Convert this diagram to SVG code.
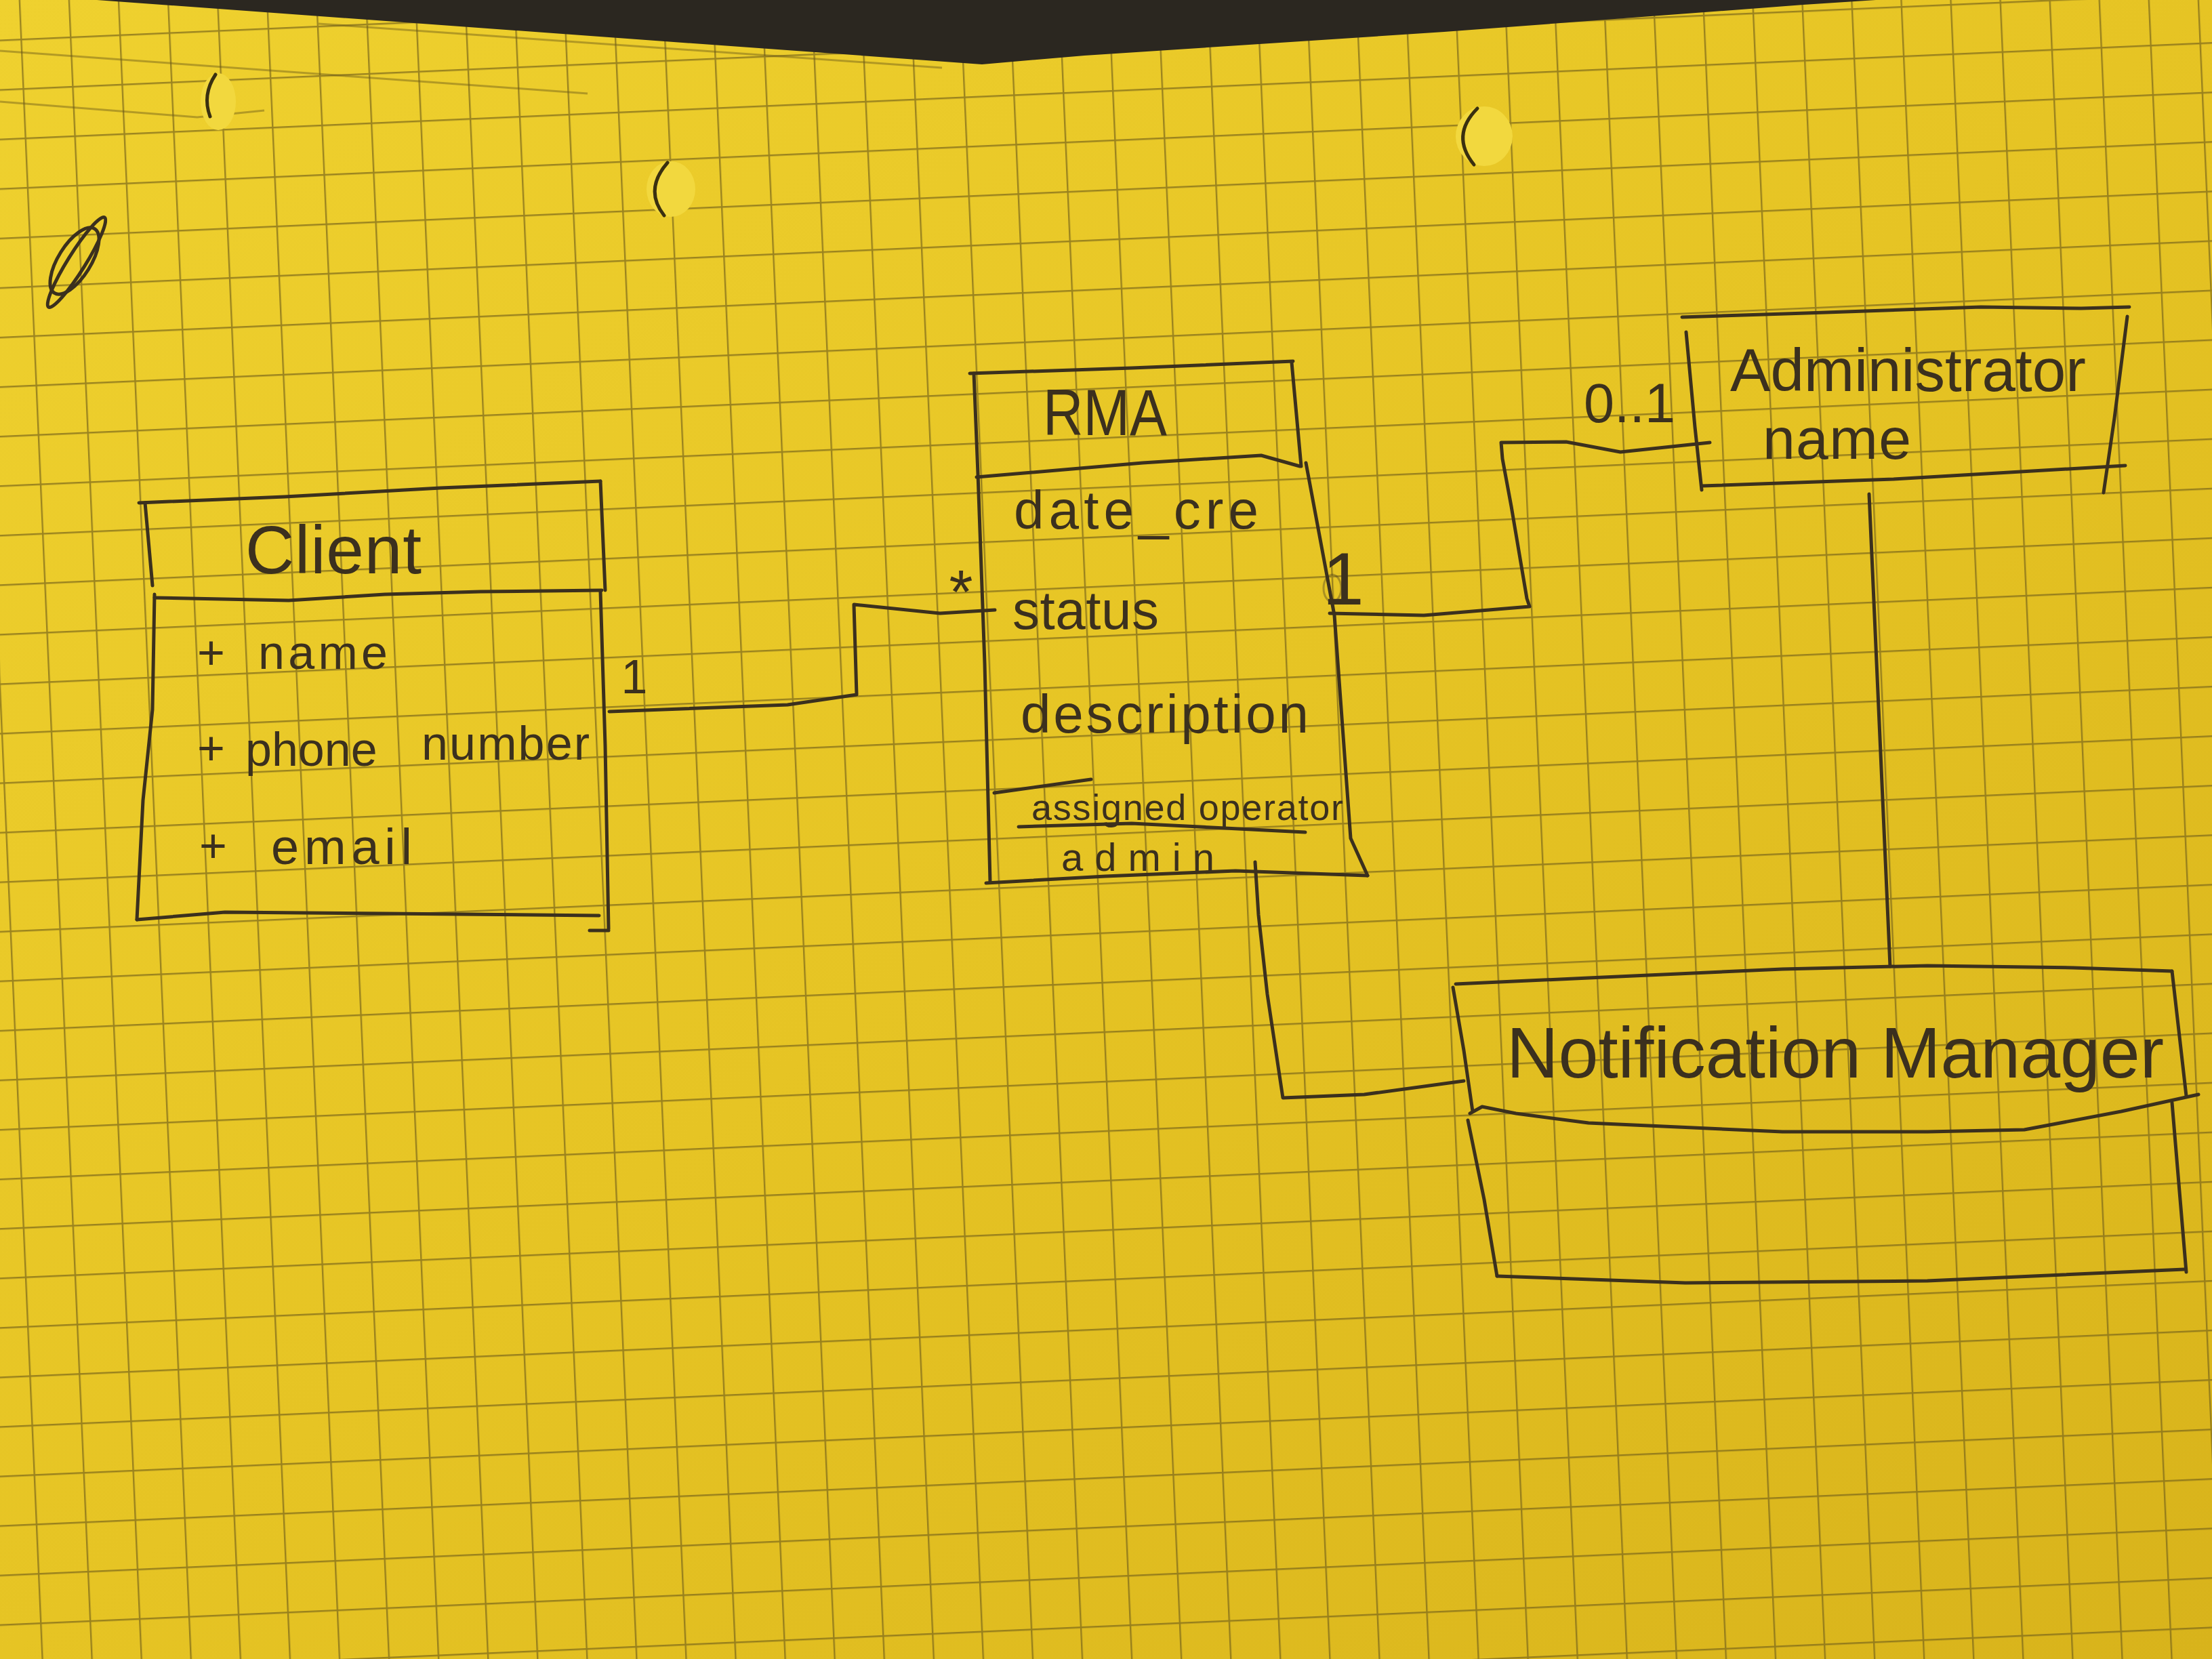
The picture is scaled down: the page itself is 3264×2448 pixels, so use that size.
<svg xmlns="http://www.w3.org/2000/svg" width="3264" height="2448" viewBox="0 0 3264 2448">
<defs>
<linearGradient id="paper" x1="0" y1="0" x2="1" y2="1">
<stop offset="0" stop-color="#efd12f"/>
<stop offset="0.5" stop-color="#e6c424"/>
<stop offset="1" stop-color="#d8b31b"/>
</linearGradient>
<pattern id="grid" width="73" height="73" patternUnits="userSpaceOnUse" patternTransform="translate(211 853) rotate(-2.5)">
<path d="M0 1.2H73M1.2 0V73" fill="none" stroke="#7a661a" stroke-width="2.4" opacity="0.7"/>
</pattern>
<style>
.pen{fill:none;stroke:#3b301e;stroke-width:5;stroke-linecap:round;stroke-linejoin:round}
.faint{fill:none;stroke:#6a5818;stroke-width:3;opacity:0.45}
.hand{font-family:"Liberation Sans",Arial,sans-serif;fill:#3b301e}
.hole{fill:#f2d83e;stroke:none}
.holeEdge{fill:none;stroke:#3a3010;stroke-width:5;stroke-linecap:round}
</style>
</defs>

<!-- paper -->
<rect x="0" y="0" width="3264" height="2448" fill="url(#paper)"/>
<rect x="0" y="0" width="3264" height="2448" fill="url(#grid)"/>
<!-- sheet edges -->
<path class="faint" d="M0 75 L867 138"/>
<path class="faint" d="M0 150 L291 173 L390 163"/>
<path class="faint" d="M470 35 L1390 100"/>
<!-- dark background at top -->
<polygon points="143,0 1449,95 1600,82 2131,47 2661,7 2768,0" fill="#2b2720"/>
<!-- punch holes -->
<ellipse class="hole" cx="322" cy="150" rx="26" ry="42"/>
<path class="holeEdge" d="M318 110 Q298 140 310 172"/>
<ellipse class="hole" cx="990" cy="279" rx="36" ry="41"/>
<path class="holeEdge" d="M985 240 Q950 280 980 318"/>
<ellipse class="hole" cx="2190" cy="201" rx="42" ry="44"/>
<path class="holeEdge" d="M2180 160 Q2140 200 2175 243"/>

<!-- scribble top-left -->
<g id="scribble">
<ellipse class="pen" cx="113" cy="387" rx="78" ry="13" transform="rotate(-58 113 387)" stroke-width="4"/>
<ellipse class="pen" cx="110" cy="385" rx="56" ry="24" transform="rotate(-58 110 385)" stroke-width="4"/>
</g>

<!-- connectors -->
<g id="connectors">
<path class="pen" d="M899 1050 L1162 1040 L1264 1025 L1260 892 L1387 905 L1468 900"/>
<path class="pen" d="M1962 905 L2101 908 L2257 895 L2253 883 L2230 747 L2217 677 L2215 653 L2311 652 L2391 667 L2523 653"/>
<path class="pen" d="M2758 729 L2789 1426"/>
<path class="pen" d="M1852 1272 L1857 1350 L1870 1467 L1893 1620 L2013 1615 L2160 1595"/>
<text class="hand" x="936" y="1023" font-size="70" text-anchor="middle">1</text>
<text class="hand" x="1418" y="905" font-size="90" text-anchor="middle">*</text>
<ellipse cx="1966" cy="868" rx="13" ry="20" fill="none" stroke="#3b301e" stroke-width="3" opacity="0.35"/>
<text class="hand" x="1982" y="892" font-size="110" text-anchor="middle">1</text>
<text class="hand" x="2337" y="623" font-size="81" textLength="135" lengthAdjust="spacing">0..1</text>
</g>

<!-- Client -->
<g id="client">
<path class="pen" d="M205 742 L420 733 L650 720 L886 710"/>
<path class="pen" d="M214 742 L225 864"/>
<path class="pen" d="M886 710 L893 871"/>
<path class="pen" d="M228 882 L426 886 L568 877 L709 873 L888 871"/>
<path class="pen" d="M228 877 L225 1047 L211 1181 L202 1357"/>
<path class="pen" d="M202 1357 L332 1346 L568 1348 L884 1351"/>
<path class="pen" d="M886 873 L893 1100 L898 1371 M870 1373 L898 1373"/>
<text class="hand" x="362" y="846" font-size="100" textLength="260" lengthAdjust="spacing">Client</text>
<text class="hand" font-size="70"><tspan x="291" y="987">+ </tspan><tspan x="381" y="987" textLength="191" lengthAdjust="spacing">name</tspan></text>
<text class="hand" font-size="70"><tspan x="291" y="1128">+ </tspan><tspan x="362" y="1130">phone </tspan><tspan x="622" y="1121" textLength="248" lengthAdjust="spacing">number</tspan></text>
<text class="hand" font-size="74"><tspan x="294" y="1272" font-size="70">+ </tspan><tspan x="400" y="1275" textLength="208" lengthAdjust="spacing">email</tspan></text>
</g>

<!-- RMA -->
<g id="rma">
<path class="pen" d="M1431 551 L1670 543 L1908 533"/>
<path class="pen" d="M1437 551 L1443 699 L1453 979 L1461 1301"/>
<path class="pen" d="M1441 704 L1686 683 L1861 672 L1918 688"/>
<path class="pen" d="M1906 535 L1920 688"/>
<path class="pen" d="M1927 683 L1969 908 L1993 1237 L2018 1292"/>
<path class="pen" d="M1455 1303 L1631 1293 L1823 1285 L2018 1292"/>
<path class="pen" d="M1467 1170 L1610 1150"/>
<text class="hand" x="1539" y="642" font-size="96" textLength="183" lengthAdjust="spacingAndGlyphs">RMA</text>
<text class="hand" x="1496" y="780" font-size="80" textLength="361" lengthAdjust="spacing">date_cre</text>
<text class="hand" x="1494" y="928" font-size="80" textLength="216" lengthAdjust="spacing">status</text>
<text class="hand" x="1506" y="1081" font-size="80" textLength="425" lengthAdjust="spacing">description</text>
<text class="hand" x="1522" y="1210" font-size="54" textLength="460" lengthAdjust="spacing">assigned operator</text>
<path class="pen" d="M1503 1220 L1670 1215 L1926 1228"/>
<text class="hand" x="1566" y="1285" font-size="58" textLength="226" lengthAdjust="spacing">admin</text>
</g>

<!-- Administrator -->
<g id="administrator">
<path class="pen" d="M2482 468 L2665 462 L2923 453 L3071 455 L3142 453"/>
<path class="pen" d="M2488 490 L2501 630 L2511 723"/>
<path class="pen" d="M2511 717 L2794 707 L3136 687"/>
<path class="pen" d="M3139 467 L3120 617 L3104 727"/>
<text class="hand" x="2553" y="577" font-size="89" textLength="525" lengthAdjust="spacing">Administrator</text>
<text class="hand" x="2601" y="677" font-size="86" textLength="219" lengthAdjust="spacing">name</text>
</g>

<!-- Notification Manager -->
<g id="notification-manager">
<path class="pen" d="M2148 1452 L2344 1443 L2630 1430 L2844 1425 L3059 1428 L3205 1433"/>
<path class="pen" d="M2144 1457 L2160 1550 L2173 1640"/>
<path class="pen" d="M2166 1653 L2190 1770 L2209 1883"/>
<path class="pen" d="M3205 1433 L3226 1617"/>
<path class="pen" d="M3205 1627 L3226 1877"/>
<path class="pen" d="M2169 1643 L2187 1633 L2237 1643 L2344 1657 L2630 1670 L2844 1670 L2987 1667 L3130 1640 L3244 1615"/>
<path class="pen" d="M2209 1883 L2487 1893 L2844 1890 L3223 1873"/>
<text class="hand" x="2223" y="1590" font-size="106" textLength="970" lengthAdjust="spacing">Notification Manager</text>
</g>
</svg>
